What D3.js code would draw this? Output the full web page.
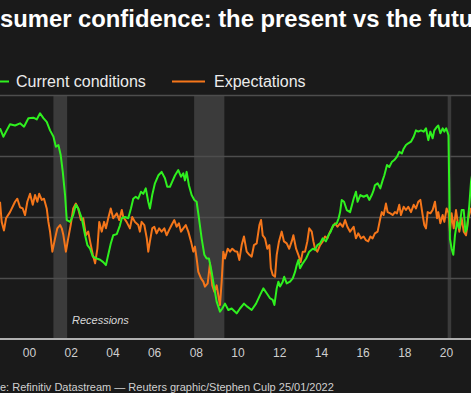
<!DOCTYPE html>
<html>
<head>
<meta charset="utf-8">
<script src="https://cdn.jsdelivr.net/npm/d3@7"></script>
<style>
  html, body { margin: 0; padding: 0; background: #1a1a1a; overflow: hidden; }
  svg { display: block; font-family: "Liberation Sans", Arial, sans-serif; }
</style>
</head>
<body>
<div id="chart"></div>
<script>
// Conference Board: present situation vs expectations (index)
const currentDates = [1998.61,1998.77,1998.93,1999.09,1999.33,1999.57,1999.76,1999.97,2000.21,2000.37,2000.53,2000.69,2000.85,2001.01,2001.17,2001.29,2001.41,2001.52,2001.62,2001.73,2001.81,2001.97,2002.12,2002.25,2002.36,2002.53,2002.69,2002.80,2002.93,2003.06,2003.25,2003.41,2003.56,2003.69,2003.80,2003.92,2004.04,2004.21,2004.36,2004.45,2004.60,2004.76,2004.89,2005.00,2005.12,2005.24,2005.37,2005.48,2005.60,2005.72,2005.80,2005.91,2006.04,2006.20,2006.36,2006.52,2006.63,2006.76,2006.87,2007.00,2007.16,2007.29,2007.40,2007.48,2007.56,2007.67,2007.80,2007.93,2008.04,2008.15,2008.28,2008.41,2008.52,2008.63,2008.76,2008.89,2009.00,2009.16,2009.27,2009.40,2009.56,2009.72,2009.88,2009.96,2010.12,2010.31,2010.47,2010.68,2010.89,2011.08,2011.24,2011.40,2011.56,2011.69,2011.77,2011.88,2011.96,2012.04,2012.17,2012.24,2012.36,2012.52,2012.65,2012.76,2012.84,2012.92,2013.00,2013.13,2013.29,2013.44,2013.61,2013.72,2013.83,2013.96,2014.09,2014.24,2014.36,2014.47,2014.59,2014.76,2014.85,2014.92,2015.00,2015.11,2015.24,2015.40,2015.57,2015.68,2015.76,2015.89,2016.05,2016.21,2016.32,2016.44,2016.53,2016.59,2016.72,2016.85,2016.96,2017.04,2017.17,2017.28,2017.40,2017.52,2017.65,2017.76,2017.88,2017.97,2018.08,2018.19,2018.32,2018.45,2018.56,2018.67,2018.80,2018.93,2019.04,2019.15,2019.25,2019.36,2019.44,2019.57,2019.63,2019.73,2019.84,2019.92,2020.01,2020.12,2020.19,2020.27,2020.35,2020.43,2020.53,2020.64,2020.75,2020.85,2020.93,2021.01,2021.12,2021.20,2021.30,2021.45,2021.60,2021.75,2021.90,2022.00];
const currentValues = [172.7,165.8,171,176,175,176.8,174,181,181.4,180,185,181,178,171,166,157.6,159,150.8,137,118,97.5,96,101.6,110,107,99,85,77,74,67.5,66,65,63,60.6,69,78,85,86,93,99,100,99,107,115,116.6,115,120.7,119,123.5,112.5,107,118,127.6,134,137,131.7,124.8,124.8,129,134,138.5,133,135.8,130,137,126,118,114,112.5,99,82.5,69,66,66,55,41.5,30.6,22.4,25,29,23.8,25,22.4,21,25,29,26.5,23.8,29,36,41.5,37.5,33.4,32,27.9,41.5,47,43,47,51,45.6,47,49.7,55,60.6,64.8,58,62,66,71.6,74,73,77,78.4,82.5,80,85,88,93.4,94.8,99,104,114,112.5,105.7,104,115,120.7,112.5,118,116.6,118,114,118,122,126,127.6,123.5,130,134,142.6,141,145,146.7,149.4,153.5,152,156,159,160.4,161.7,165.8,171,170,171,170,172.7,163,170,164.5,171,174,175,168.6,172.7,170,172.7,167,82,74,69,85,96,90.7,105.7,105.7,88,90.7,110,129,140,157,150,145,144,145];

const expectDates = [1998.61,1998.69,1998.80,1998.90,1999.09,1999.33,1999.44,1999.57,1999.70,1999.81,1999.92,2000.05,2000.18,2000.29,2000.40,2000.49,2000.61,2000.72,2000.85,2000.93,2001.01,2001.12,2001.25,2001.36,2001.49,2001.57,2001.65,2001.77,2001.88,2002.00,2002.12,2002.25,2002.36,2002.49,2002.60,2002.73,2002.84,2002.93,2003.06,2003.17,2003.28,2003.37,2003.49,2003.60,2003.69,2003.80,2003.92,2004.04,2004.21,2004.33,2004.45,2004.52,2004.68,2004.84,2004.95,2005.08,2005.24,2005.32,2005.40,2005.53,2005.65,2005.72,2005.80,2005.91,2006.01,2006.12,2006.24,2006.36,2006.49,2006.60,2006.71,2006.84,2006.97,2007.08,2007.19,2007.29,2007.40,2007.52,2007.64,2007.77,2007.88,2007.96,2008.04,2008.12,2008.25,2008.36,2008.44,2008.57,2008.68,2008.79,2008.89,2009.00,2009.08,2009.16,2009.24,2009.32,2009.40,2009.53,2009.64,2009.75,2009.88,2009.99,2010.09,2010.20,2010.31,2010.44,2010.57,2010.68,2010.79,2010.92,2011.05,2011.13,2011.21,2011.32,2011.43,2011.53,2011.60,2011.69,2011.80,2011.88,2011.99,2012.12,2012.23,2012.36,2012.48,2012.60,2012.68,2012.81,2012.92,2013.03,2013.13,2013.24,2013.35,2013.44,2013.56,2013.64,2013.72,2013.83,2013.96,2014.09,2014.20,2014.31,2014.44,2014.57,2014.68,2014.79,2014.92,2015.05,2015.16,2015.27,2015.40,2015.57,2015.68,2015.79,2015.92,2016.05,2016.16,2016.27,2016.37,2016.48,2016.59,2016.72,2016.85,2016.92,2017.01,2017.12,2017.20,2017.33,2017.44,2017.55,2017.65,2017.76,2017.84,2017.97,2018.08,2018.19,2018.32,2018.45,2018.56,2018.67,2018.77,2018.88,2018.96,2019.04,2019.12,2019.25,2019.36,2019.47,2019.57,2019.63,2019.73,2019.84,2019.92,2020.03,2020.13,2020.19,2020.27,2020.37,2020.48,2020.56,2020.64,2020.75,2020.85,2020.96,2021.07,2021.20,2021.35,2021.50,2021.65,2021.80,2021.95];
const expectValues = [112.5,96,89,99,104,112.5,115,108,107,101.6,112.5,119,110,118,112.5,119,114,115,107,96,88,71.6,82.5,90.7,93.4,90.7,85,71.6,82.5,93.4,107,111,107,97.5,99,85,88,80,69,62,74,96,88,96,90.7,99,107,99,103,97.5,105.7,100,96,90.7,100,96,93.4,88,96,93.4,82.5,71.6,80,90.7,92,86.6,90.7,88,90.7,85,89,93.4,97.5,92,94.8,88,90.7,93.4,88,80,71.6,75.7,66,55,49.7,47,42.9,45.6,62,44,38.8,44,36,27.9,47,71.6,66,74,71.6,74,72,71.6,64.8,77,84,71.6,69,67.5,77,78.4,93.4,97.5,85,82.5,74,77,58,52.5,51,69,80,88,80,78.4,74,80,85,74,69,63,71.6,71.6,80,90.7,88,80,74,71.6,77,80,84,82.5,88,92,94.8,92,94.8,92,97.5,92,88,92,82.5,86.6,82.5,84,81,80,84,82.5,86.6,88,99,104,101.6,111,104,103,101.6,104,103,110,101.6,108.4,105.7,108.4,104,110,107,112.5,114,101.6,93.4,90.7,104,103,105.7,112.5,99,104,94.8,101.6,96,107,103,88,103,90.7,105.7,96,88,99,88,85,99,107,100,95,85,80,82];

const recessions = [[2001.17, 2001.83], [2007.92, 2009.37], [2020.08, 2020.25]];
const tickYears = [2000, 2002, 2004, 2006, 2008, 2010, 2012, 2014, 2016, 2018, 2020];
const tickLabels = ["00", "02", "04", "06", "08", "10", "12", "14", "16", "18", "20"];
const gridValues = [50, 100, 150, 200];

const width = 471, height = 393;
const green = "#2ff01f", orange = "#f5761a";

let svg = d3.select("#chart")
  .append("svg")
    .attr("width", width)
    .attr("height", height);

svg.append("rect")
  .attr("width", width)
  .attr("height", height)
  .attr("fill", "#1a1a1a");

let x = d3.scaleLinear()
  .domain([2000, 2020])
  .range([29, 446]);

let y = d3.scaleLinear()
  .domain([0, 200])
  .range([339, 95]);

// recession bands
svg.selectAll(".recession")
  .data(recessions)
  .enter()
  .append("rect")
    .attr("class", "recession")
    .attr("x", d => x(d[0]))
    .attr("width", d => x(d[1]) - x(d[0]))
    .attr("y", y(200))
    .attr("height", y(0) - y(200))
    .attr("fill", "#3b3b3b");

// gridlines
svg.append("g")
  .call(d3.axisLeft(y).tickValues(gridValues).tickSize(-width).tickFormat(""))
  .call(g => g.select(".domain").remove())
  .call(g => g.selectAll(".tick line").attr("stroke", "#4d4d4d").attr("stroke-width", 1.5));

svg.append("text")
  .attr("x", 72)
  .attr("y", 324)
  .attr("fill", "#d8d8d8")
  .style("font-size", "11px")
  .style("font-style", "italic")
  .text("Recessions");

let line = d3.line()
  .x(d => x(d[0]))
  .y(d => y(d[1]));

svg.append("path")
  .datum(d3.zip(expectDates, expectValues))
  .attr("d", line)
  .attr("fill", "none")
  .attr("stroke", orange)
  .attr("stroke-width", 2)
  .attr("stroke-linejoin", "round");

svg.append("path")
  .datum(d3.zip(currentDates, currentValues))
  .attr("d", line)
  .attr("fill", "none")
  .attr("stroke", green)
  .attr("stroke-width", 2)
  .attr("stroke-linejoin", "round");

// x axis
let xAxis = svg.append("g")
  .attr("transform", "translate(0," + y(0) + ")")
  .call(d3.axisBottom(x).tickValues(tickYears).tickSize(0).tickPadding(9)
    .tickFormat((d, i) => tickLabels[i]));
xAxis.select(".domain").remove();
xAxis.selectAll("text")
  .attr("fill", "#cfcfcf")
  .style("font-size", "12px")
  .style("font-family", "'Liberation Sans', Arial, sans-serif");
svg.append("line")
  .attr("x1", 0).attr("x2", width)
  .attr("y1", y(0)).attr("y2", y(0))
  .attr("stroke", "#b0b0b0")
  .attr("stroke-width", 2);

// title, cropped on the left like the source
let title = svg.append("text")
  .attr("y", 27)
  .attr("fill", "#ffffff")
  .style("font-size", "23.8px")
  .style("font-weight", "bold")
  .text("U.S. consumer confidence: the present vs the future");
let probe = svg.append("text")
  .style("font-size", "23.8px")
  .style("font-weight", "bold")
  .text("U.S. con");
title.attr("x", -probe.node().getComputedTextLength());
probe.remove();

// legend
let legendItems = [
  { label: "Current conditions", color: green, x0: -25, x1: 9, tx: 16 },
  { label: "Expectations", color: orange, x0: 172, x1: 205, tx: 214 }
];
let legend = svg.selectAll(".legend")
  .data(legendItems)
  .enter()
  .append("g")
    .attr("class", "legend");
legend.append("line")
  .attr("x1", d => d.x0).attr("x2", d => d.x1)
  .attr("y1", 81.5).attr("y2", 81.5)
  .attr("stroke", d => d.color)
  .attr("stroke-width", 2);
legend.append("text")
  .attr("x", d => d.tx)
  .attr("y", 87)
  .attr("fill", "#ececec")
  .style("font-size", "16px")
  .text(d => d.label);

// source line, also cropped
let source = svg.append("text")
  .attr("y", 391)
  .attr("fill", "#d0d0d0")
  .style("font-size", "11px")
  .text("Source: Refinitiv Datastream \u2014 Reuters graphic/Stephen Culp 25/01/2022");
let probe2 = svg.append("text")
  .style("font-size", "11px")
  .text("Sourc");
source.attr("x", -probe2.node().getComputedTextLength());
probe2.remove();
</script>
</body>
</html>
